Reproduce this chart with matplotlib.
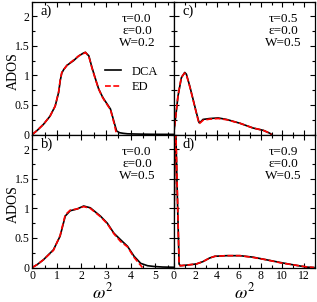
import matplotlib
matplotlib.use("Agg")
import matplotlib.pyplot as plt
from matplotlib.ticker import MultipleLocator

plt.rcParams['font.family'] = ['Liberation Serif', 'DejaVu Serif']
plt.rcParams['mathtext.fontset'] = 'stix'

# Panel a) tau=0.0, eps=0.0, W=0.2
a_x_dca = [0, 0.2, 0.45, 0.72, 0.93, 1.07, 1.14, 1.2, 1.28, 1.41, 1.68, 1.89, 2.09, 2.16, 2.3, 2.43, 2.57, 2.7, 2.84, 2.91, 3.18, 3.32, 3.43, 3.55, 3.7, 3.87, 4.2, 4.6, 5.0, 5.75]
a_y_dca = [0, 0.07, 0.17, 0.31, 0.48, 0.71, 0.92, 1.04, 1.10, 1.17, 1.25, 1.33, 1.38, 1.39, 1.33, 1.13, 0.94, 0.77, 0.65, 0.60, 0.43, 0.22, 0.06, 0.03, 0.02, 0.012, 0.008, 0.005, 0.003, 0.002]
a_x_ed = [0, 0.2, 0.45, 0.72, 0.93, 1.07, 1.14, 1.2, 1.28, 1.41, 1.68, 1.89, 2.09, 2.16, 2.3, 2.43, 2.57, 2.7, 2.84, 2.91, 3.18, 3.32, 3.43]
a_y_ed = [0, 0.07, 0.17, 0.31, 0.48, 0.72, 0.94, 1.05, 1.10, 1.17, 1.26, 1.33, 1.37, 1.39, 1.32, 1.12, 0.93, 0.77, 0.64, 0.59, 0.42, 0.20, 0.0]

# Panel b) tau=0.0, eps=0.0, W=0.5
b_x_dca = [0, 0.2, 0.45, 0.86, 1.13, 1.34, 1.54, 1.82, 2.09, 2.36, 2.77, 3.05, 3.32, 3.59, 3.87, 4.14, 4.41, 4.69, 4.96, 5.3, 5.75]
b_y_dca = [0, 0.05, 0.13, 0.30, 0.53, 0.87, 0.96, 0.99, 1.04, 1.01, 0.87, 0.75, 0.58, 0.47, 0.36, 0.19, 0.07, 0.03, 0.017, 0.008, 0.004]
b_x_ed = [0, 0.2, 0.45, 0.86, 1.13, 1.34, 1.54, 1.82, 2.09, 2.36, 2.77, 3.05, 3.32, 3.59, 3.87, 4.14, 4.48]
b_y_ed = [0, 0.05, 0.13, 0.29, 0.54, 0.89, 0.97, 0.99, 1.03, 1.00, 0.86, 0.74, 0.57, 0.44, 0.35, 0.17, 0.0]

# Panel c) tau=0.5, eps=0.0, W=0.5
c_x_dca = [0, 0.09, 0.4, 0.71, 1.02, 1.17, 1.48, 1.78, 2.09, 2.34, 2.46, 2.7, 3.3, 4.1, 4.86, 6.1, 7.3, 8.25, 8.86, 9.0]
c_y_dca = [0, 0.14, 0.65, 0.96, 1.05, 1.02, 0.82, 0.60, 0.37, 0.20, 0.21, 0.255, 0.27, 0.28, 0.255, 0.19, 0.11, 0.07, 0.02, 0.0]
c_x_ed = [0, 0.09, 0.4, 0.71, 1.02, 1.17, 1.48, 1.78, 2.09, 2.34, 2.46, 2.7, 3.3, 4.1, 4.86, 6.1, 7.3, 8.25, 8.86, 9.0]
c_y_ed = [0, 0.14, 0.66, 0.97, 1.04, 1.01, 0.81, 0.59, 0.36, 0.18, 0.20, 0.24, 0.26, 0.27, 0.25, 0.19, 0.11, 0.07, 0.02, 0.0]

# Panel d) tau=0.9, eps=0.0, W=0.5
d_x_dca = [0, 0.15, 0.3, 0.5, 0.6, 1.17, 2.09, 2.7, 3.3, 3.8, 4.86, 6.1, 7.3, 8.55, 9.8, 11.0, 12.25, 12.9]
d_y_dca = [0, 2.7, 1.5, 0.06, 0.03, 0.04, 0.06, 0.10, 0.16, 0.19, 0.20, 0.20, 0.175, 0.13, 0.085, 0.045, 0.006, 0.0]
d_x_ed = [0, 0.15, 0.3, 0.5, 0.6, 1.17, 2.09, 2.7, 3.3, 3.8, 4.86, 6.1, 7.3, 8.55, 9.8, 11.0, 12.25, 12.9]
d_y_ed = [0, 2.7, 1.6, 0.07, 0.03, 0.04, 0.06, 0.10, 0.16, 0.19, 0.20, 0.20, 0.17, 0.13, 0.08, 0.045, 0.01, 0.0]

panel_labels = ['a)', 'b)', 'c)', 'd)']
panel_params = ['τ=0.0\nε=0.0\nW=0.2', 'τ=0.0\nε=0.0\nW=0.5',
                'τ=0.5\nε=0.0\nW=0.5', 'τ=0.9\nε=0.0\nW=0.5']

fig = plt.figure(figsize=(3.17, 3.02), dpi=100)
gs = fig.add_gridspec(2, 2, left=32.3/317, right=315/317, bottom=1-267.5/302, top=1-1.5/302,
                      wspace=0, hspace=0)
axa = fig.add_subplot(gs[0, 0])
axb = fig.add_subplot(gs[1, 0])
axc = fig.add_subplot(gs[0, 1])
axd = fig.add_subplot(gs[1, 1])
axes = [axa, axb, axc, axd]
data = [(a_x_dca, a_y_dca, a_x_ed, a_y_ed), (b_x_dca, b_y_dca, b_x_ed, b_y_ed),
        (c_x_dca, c_y_dca, c_x_ed, c_y_ed), (d_x_dca, d_y_dca, d_x_ed, d_y_ed)]
text_x = [0.74, 0.74, 0.775, 0.775]

for i, ax in enumerate(axes):
    xd, yd, xe, ye = data[i]
    ax.plot(xd, yd, color='black', lw=1.2, label='DCA')
    ax.plot(xe, ye, color='red', lw=1.2, ls=(0, (3.5, 1.5)), label='ED')
    ax.set_ylim(0, 2.25)
    ax.yaxis.set_major_locator(MultipleLocator(0.5))
    ax.yaxis.set_minor_locator(MultipleLocator(0.25))
    if i < 2:
        ax.set_xlim(0, 5.75)
        ax.xaxis.set_major_locator(MultipleLocator(1))
        ax.xaxis.set_minor_locator(MultipleLocator(0.5))
        ax.set_ylabel('ADOS', fontsize=10)
        ax.yaxis.set_label_coords(-0.09, 0.48)
        ax.yaxis.set_major_formatter(plt.FuncFormatter(lambda v, p: ('%g' % v)))
    else:
        ax.set_xlim(0, 13)
        ax.xaxis.set_major_locator(MultipleLocator(2))
        ax.xaxis.set_minor_locator(MultipleLocator(1))
        ax.tick_params(labelleft=False)
    if i in (0, 2):
        ax.tick_params(labelbottom=False)
    else:
        ax.set_xlabel(r'$\omega^2$', fontsize=13, labelpad=0)
    ax.tick_params(which='both', direction='in', top=True, right=True, labelsize=8.5,
                   width=0.8, pad=2)
    ax.tick_params(which='major', length=3.5)
    ax.tick_params(which='minor', length=2.5)
    for s in ax.spines.values():
        s.set_linewidth(0.9)
    ax.text(0.06, 0.975, panel_labels[i], transform=ax.transAxes, fontsize=10.5,
            ha='left', va='top')
    ax.text(text_x[i], 0.915, panel_params[i], transform=ax.transAxes, fontsize=9.5,
            ha='center', va='top', multialignment='center', linespacing=1.0)

axa.legend(loc='center left', bbox_to_anchor=(0.515, 0.414), frameon=False, fontsize=9,
           borderpad=0, borderaxespad=0, handlelength=1.3, handletextpad=0.8,
           labelspacing=0.3)

fig.savefig('out.png', dpi=100)
